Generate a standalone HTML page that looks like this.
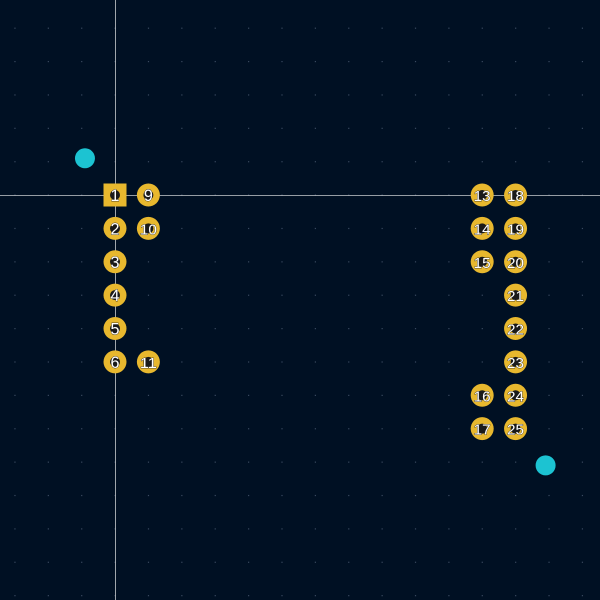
<!DOCTYPE html>
<html><head><meta charset="utf-8"><style>
html,body{margin:0;padding:0;background:#001023;}
svg{display:block}
</style></head><body>
<svg id="c" width="600" height="600" xmlns="http://www.w3.org/2000/svg">
<rect width="600" height="600" fill="#001023"/>
<g id="grid"></g>
<g id="pads"></g>
</svg>
<script>
const padNumbers = [1,2,3,4,5,6,9,10,11,13,14,15,16,17,18,19,20,21,22,23,24,25];
const padCols    = [0,0,0,0,0,0,1,1,1,11,11,11,11,11,12,12,12,12,12,12,12,12];
const padRows    = [0,1,2,3,4,5,0,1,5,0,1,2,6,7,0,1,2,3,4,5,6,7];
const markerCols = [-0.9,12.9];
const markerRows = [-1.1,8.1];

const ox=115, oy=195, pitch=33.38;
const X=c=>ox+c*pitch, Y=r=>oy+r*pitch;
const NS='http://www.w3.org/2000/svg';
function mk(t,a,p){const e=document.createElementNS(NS,t);for(const k in a)e.setAttribute(k,a[k]);p.appendChild(e);return e;}

const grid=document.getElementById('grid');
for(let i=-4;i<=15;i++)for(let j=-6;j<=13;j++){
  const x=X(i),y=Y(j); if(x<0||x>600||y<0||y>600)continue;
  const d=mk('rect',{x:x-0.5,y:y-0.5,width:1.2,height:1.2,fill:'#3a4a60'},grid);
  
  
}
const h=mk('line',{x1:0,y1:oy+0.5,x2:600,y2:oy+0.5,stroke:'#c8ccd0','stroke-width':0.8},grid);


const v=mk('line',{x1:ox+0.5,y1:0,x2:ox+0.5,y2:600,stroke:'#c8ccd0','stroke-width':0.8},grid);



const pads=document.getElementById('pads');
for(let i=0;i<markerCols.length;i++){
  const m=mk('circle',{cx:X(markerCols[i]),cy:Y(markerRows[i]),r:10,fill:'#1cc3d2'},pads);
  
  
}
for(let i=0;i<padNumbers.length;i++){
  const x=X(padCols[i]),y=Y(padRows[i]);
  const g=mk('g',{},pads);
  
  
  if(padNumbers[i]===1) mk('rect',{x:x-11.5,y:y-11.5,width:23,height:23,fill:'#e8b82e'},g);
  else mk('circle',{cx:x,cy:y,r:11.5,fill:'#e8b82e'},g);
  mk('circle',{cx:x,cy:y,r:5,fill:'#1a1a1a'},g);
  const big=padNumbers[i]>9;
  const t=mk('text',{x:x,y:y+6,'text-anchor':'middle','font-family':'Liberation Sans, sans-serif','font-size':big?15:17,'textLength':big?17:9,'lengthAdjust':'spacingAndGlyphs',fill:'#ffffff',stroke:'#222','stroke-width':0.7,'paint-order':'stroke'},g);
  t.textContent=padNumbers[i];
}
</script>
</body></html>
